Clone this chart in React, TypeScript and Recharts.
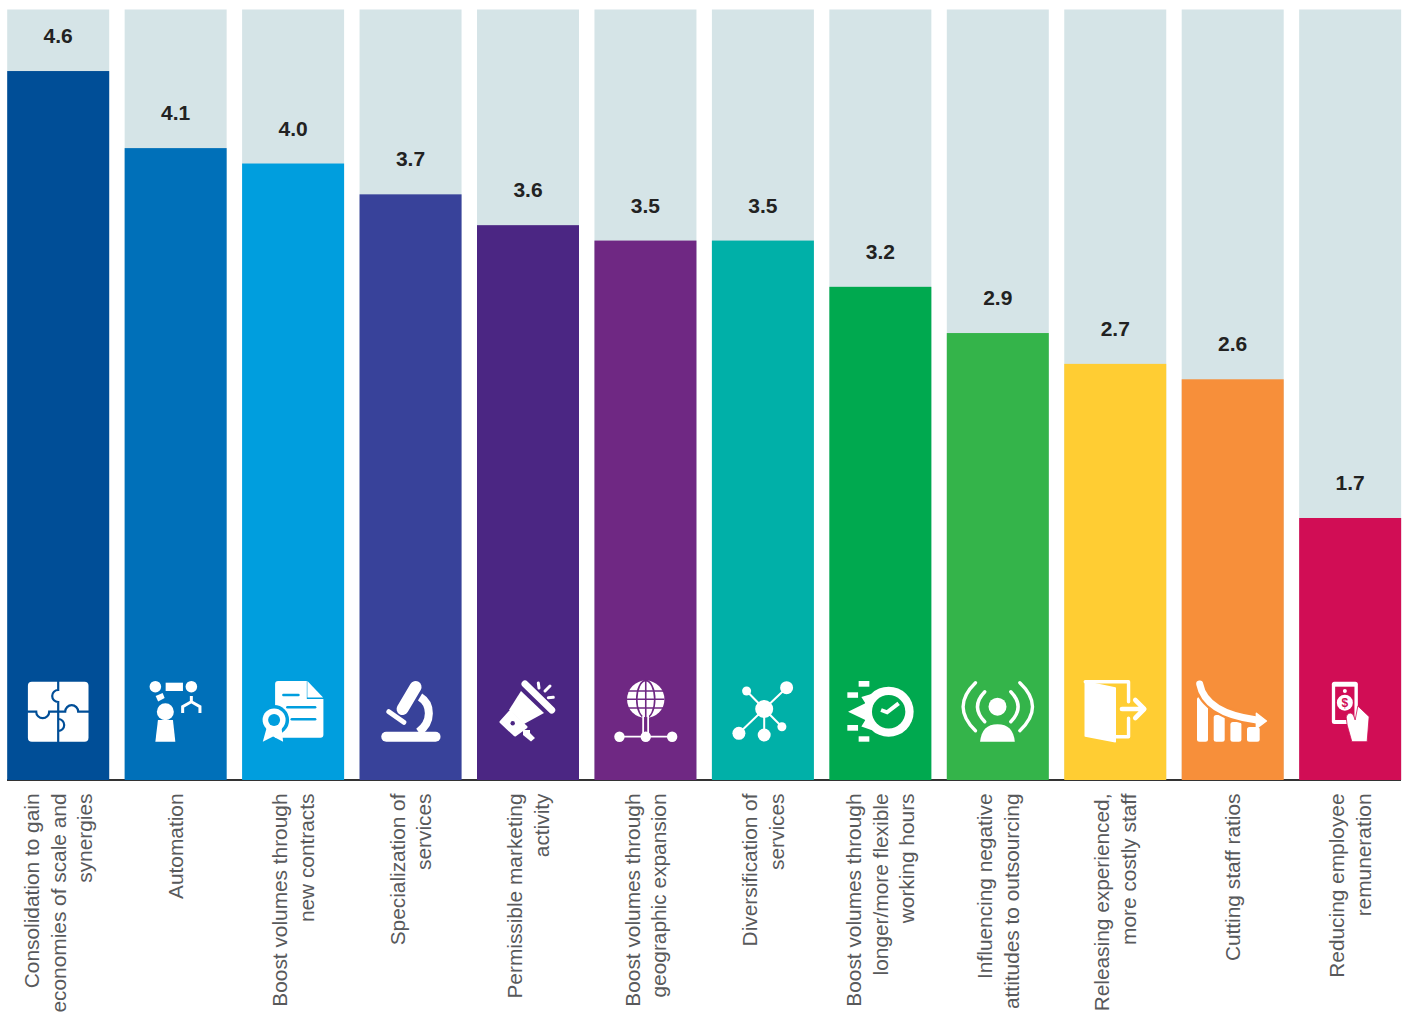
import { BarChart, Bar, XAxis, YAxis, LabelList } from "recharts";

const categories = [
  "Consolidation to gain\neconomies of scale and\nsynergies",
  "Automation",
  "Boost volumes through\nnew contracts",
  "Specialization of\nservices",
  "Permissible marketing\nactivity",
  "Boost volumes through\ngeographic expansion",
  "Diversification of\nservices",
  "Boost volumes through\nlonger/more flexible\nworking hours",
  "Influencing negative\nattitudes to outsourcing",
  "Releasing experienced,\nmore costly staff",
  "Cutting staff ratios",
  "Reducing employee\nremuneration",
];
// heights as drawn in the picture (the fourth bar stands at 3.8 but is printed 3.7)
const values = [4.6, 4.1, 4.0, 3.8, 3.6, 3.5, 3.5, 3.2, 2.9, 2.7, 2.6, 1.7];
const printedLabels = ["4.6", "4.1", "4.0", "3.7", "3.6", "3.5", "3.5", "3.2", "2.9", "2.7", "2.6", "1.7"];
const colors = [
  "#004e97", "#0070b9", "#009ede", "#38429a", "#4b2683", "#6f2883",
  "#00b0a8", "#00a94f", "#34b44a", "#ffcd33", "#f78f3a", "#d10d55",
];

const chartData = categories.map((name, i) => ({ name, value: values[i], label: printedLabels[i] }));

const FONT = "'Liberation Sans', Arial, sans-serif";

// icons are drawn in a box 102 wide, 120 tall, sitting on the baseline
function Icon({ index, bg }: { index: number; bg: string }) {
  const w = "#fff";
  switch (index) {
    case 0:
      return (
        <g>
          <rect x={20.7} y={21.7} width={60.6} height={60} rx={4} fill={w} />
          <g fill="none" stroke={bg} strokeWidth={2.2}>
            <path d="M51 21 V30 A6 6 0 1 0 51 42 V82" />
            <path d="M20 51.7 H29 A6.5 6.5 0 0 0 42 51.7 H58 A6.5 6.5 0 0 1 71 51.7 H82" />
            <path d="M51 59 A6 6 0 1 1 51 71" />
          </g>
        </g>
      );
    case 1:
      return (
        <g fill={w}>
          <circle cx={30.7} cy={26.7} r={5.8} />
          <circle cx={66.7} cy={26.7} r={5.8} />
          <rect x={41} y={22.7} width={17.3} height={8.3} />
          <path d="M31 36 L38 33 L40 38 L33.5 41.5 Z" />
          <circle cx={40.7} cy={51.7} r={8.5} />
          <path d="M33.3 60 L48.3 60 L50.7 81.7 L30.7 81.7 Z" />
          <path d="M66.7 36 V41.7 L58 46.7 V53 M66.7 41.7 L75.3 46.7 V53" fill="none" stroke={w} strokeWidth={3} />
        </g>
      );
    case 2:
      return (
        <g>
          <path d="M33 24 Q33 21 36 21 H64.7 V39 H81.3 V74.7 Q81.3 77.7 78.3 77.7 H33 Z" fill={w} />
          <path d="M65.3 21 L81 37.5 H65.3 Z" fill={w} />
          <g stroke={bg} strokeWidth={2.6} strokeLinecap="round">
            <path d="M41.3 35 H56.3" />
            <path d="M45.3 47.3 H73" />
            <path d="M49.7 59.3 H73" />
          </g>
          <circle cx={32} cy={60} r={15} fill={bg} />
          <circle cx={32} cy={60} r={11.5} fill={w} />
          <circle cx={32} cy={60} r={6} fill={bg} />
          <path d="M20.7 81.7 L24.5 68 L39.5 68 L41 81.7 L31 76.5 Z" fill={w} />
        </g>
      );
    case 3:
      return (
        <g fill="none" stroke={w} strokeLinecap="round">
          <path d="M26.7 76.7 H76" strokeWidth={10} />
          <path d="M56 27 L43 49" strokeWidth={12} />
          <path d="M29.3 51.7 L44.3 62.3" strokeWidth={5} />
          <path d="M60.5 37 C72 44 73 62 59 72" strokeWidth={8} strokeLinecap="butt" />
        </g>
      );
    case 4:
      return (
        <g fill={w}>
          <path d="M48 24 L74.7 50" stroke={w} strokeWidth={7} strokeLinecap="round" />
          <path d="M44 31 L67 53 L47 64 L32 50 Z" />
          <path d="M24 62 L33 52 L49 67 L38 75 Z" stroke={w} strokeWidth={3} strokeLinejoin="round" />
          <path d="M46 70 H53 V73 L58 78 L54 81.5 L46 75 Z" />
          <circle cx={35.7} cy={63.3} r={2.2} fill={bg} />
          <g stroke={w} strokeWidth={3} strokeLinecap="round">
            <path d="M61.3 23 L62 28" />
            <path d="M73 26 L68 31" />
            <path d="M76.3 37.3 L71.3 37.7" />
          </g>
        </g>
      );
    case 5:
      return (
        <g>
          <circle cx={51.3} cy={39.3} r={18.7} fill={w} />
          <g fill="none" stroke={bg} strokeWidth={1.6}>
            <ellipse cx={51.3} cy={39.3} rx={9} ry={18.7} />
            <path d="M51.3 20 V58 M32 31 H70 M32 39.3 H70 M32 48 H70" />
          </g>
          <path d="M48.7 56 V76 M53.7 56 V76 M25 76.7 H77.7" stroke={w} strokeWidth={1.8} fill="none" />
          <g fill={w}>
            <circle cx={25} cy={76.7} r={5.2} />
            <circle cx={51.3} cy={76.7} r={5.2} />
            <circle cx={77.7} cy={76.7} r={5.2} />
          </g>
        </g>
      );
    case 6:
      return (
        <g fill={w}>
          <path d="M52.3 49 L74.7 27.7 M52.3 49 L34.7 31 M52.3 49 L27 73.3 M52.3 49 V75 M52.3 49 L70 66.7" stroke={w} strokeWidth={2} />
          <circle cx={52.3} cy={49} r={9} />
          <circle cx={74.7} cy={27.7} r={6.5} />
          <circle cx={34.7} cy={31} r={4.5} />
          <circle cx={27} cy={73.3} r={6.5} />
          <circle cx={52.3} cy={75} r={6.5} />
          <circle cx={70} cy={66.7} r={4.5} />
        </g>
      );
    case 7:
      return (
        <g fill={w}>
          <path d="M18.7 51.7 L36 43.3 L32 37 L42 34 L60 50 L42 70 L32 66.5 L36 60 Z" />
          <circle cx={59.3} cy={51.7} r={25} />
          <circle cx={59.3} cy={51.7} r={16.7} fill={bg} />
          <path d="M51.7 50 L57.7 52.3 L69.3 43.3" fill="none" stroke={w} strokeWidth={4} />
          <rect x={29.3} y={21} width={10.7} height={5.7} />
          <rect x={18} y={32.3} width={10.7} height={5.5} />
          <rect x={18} y={65} width={10.7} height={5.7} />
          <rect x={29.3} y={76.3} width={10.7} height={5.4} />
        </g>
      );
    case 8:
      return (
        <g>
          <g fill="none" stroke={w} strokeWidth={3.4} strokeLinecap="round">
            <path d="M38 31.7 Q23.4 46.7 38 61.7" />
            <path d="M64 31.7 Q78.6 46.7 64 61.7" />
            <path d="M28.7 22.7 Q3.9 46.7 28.7 70.7" />
            <path d="M73 22.7 Q98.4 46.7 73 70.7" />
          </g>
          <circle cx={50.7} cy={46.7} r={9} fill={w} />
          <path d="M33.3 81.7 Q35 64.3 50.7 64.3 Q66.4 64.3 68 81.7 Z" fill={w} />
        </g>
      );
    case 9:
      return (
        <g>
          <path d="M21 21.7 L51 28 V81.7 L21 76 Z" fill={w} stroke={w} strokeWidth={1.5} strokeLinejoin="round" />
          <g fill="none" stroke={w} strokeWidth={3.4} strokeLinecap="round" strokeLinejoin="round">
            <path d="M21 21.7 H64.3 V41.7" />
            <path d="M64.3 58.3 V76.7 H51" />
            <path d="M57.7 49 H79 M71 40 L80 49 L71 58" strokeWidth={4.6} />
          </g>
        </g>
      );
    case 10:
      return (
        <g>
          <g fill={w}>
            <rect x={15.3} y={37} width={11} height={44.7} rx={2.5} />
            <rect x={32} y={55} width={11} height={26.7} rx={2.5} />
            <rect x={48.7} y={62} width={11} height={19.7} rx={2.5} />
            <rect x={65.3} y={67} width={12.7} height={14.7} rx={2.5} />
          </g>
          <path d="M18 24 C22 45 45 56 75 60" fill="none" stroke={bg} strokeWidth={12} />
          <path d="M18 24 C22 45 45 56 75 60" fill="none" stroke={w} strokeWidth={7} strokeLinecap="round" />
          <path d="M74.7 53.3 L84.7 61 L74.7 68.3 Z" fill={w} stroke={w} strokeWidth={1.5} strokeLinejoin="round" />
        </g>
      );
    default:
      return (
        <g>
          <rect x={32.7} y={21.7} width={26} height={42.3} rx={2.5} fill={w} />
          <rect x={36} y={26.7} width={19.3} height={33.3} fill={bg} />
          <circle cx={45.7} cy={31} r={2} fill={w} />
          <circle cx={45.7} cy={42.7} r={8} fill={w} />
          <text x={45.7} y={47} textAnchor="middle" fontSize={12} fontWeight="bold" fontFamily={FONT} fill={bg}>$</text>
          <path d="M47 57 Q48 53 51 53 Q54 53 55 57 L56 60 L58.7 46 L70 56.7 L68 81.7 L52.7 81.7 L48 65 Z" fill={w} stroke={bg} strokeWidth={0.8} />
        </g>
      );
  }
}

function IconBar(props: any) {
  const { x, y, width, height, index } = props;
  const fill = colors[index];
  return (
    <g>
      <rect x={x} y={y} width={width} height={height} fill={fill} />
      <g transform={`translate(${x}, ${y + height - 120})`}>
        <Icon index={index} bg={fill} />
      </g>
    </g>
  );
}

function CategoryTick({ x, y, payload }: any) {
  const lines = String(payload.value).split("\n");
  return (
    <g>
      {lines.map((line, i) => {
        const lx = x + 7.7 + (i - (lines.length - 1) / 2) * 26.7;
        return (
          <text
            key={i}
            transform={`translate(${lx}, ${y + 13.5}) rotate(-90)`}
            textAnchor="end"
            fontFamily={FONT}
            fontSize={20.85}
            fill="#58595b"
          >
            {line}
          </text>
        );
      })}
    </g>
  );
}

export default function App() {
  return (
    <div style={{ position: "absolute", left: 0, top: 0, width: 1403, height: 1012, overflow: "hidden", background: "#fff" }}>
      <BarChart
        width={1403}
        height={1012}
        data={chartData}
        barSize={102}
        margin={{ top: 9.4, right: -5.6, bottom: 0, left: -0.8 }}
      >
        <XAxis
          dataKey="name"
          height={232}
          interval={0}
          axisLine={false}
          tickLine={false}
          tickSize={0}
          tickMargin={0}
          tick={<CategoryTick />}
        />
        <YAxis hide domain={[0, 5]} />
        <Bar dataKey="value" background={{ fill: "#d5e4e7" }} shape={<IconBar />} isAnimationActive={false}>
          <LabelList
            dataKey="label"
            position="top"
            offset={28}
            fontFamily={FONT}
            fontSize={21}
            fontWeight="bold"
            fill="#222"
          />
        </Bar>
        <line x1={7} x2={1401} y1={780} y2={780} stroke="#333" strokeWidth={2} />
      </BarChart>
    </div>
  );
}
